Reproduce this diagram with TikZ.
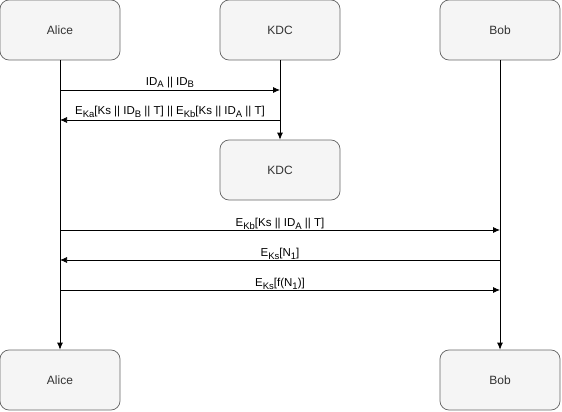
\documentclass[tikz,border=0pt]{standalone}
\usepackage{fontspec}
\setmainfont{Liberation Sans}
\usetikzlibrary{arrows.meta}
\definecolor{boxfill}{HTML}{F5F5F5}
\definecolor{boxdraw}{HTML}{666666}
\definecolor{boxtext}{HTML}{333333}
\newcommand{\sbs}[1]{\raisebox{-2.6pt}{\fontsize{9.5}{10}\selectfont #1}}
\begin{document}
\begin{tikzpicture}[x=1pt,y=-1pt,
  actor/.style={draw=boxdraw,fill=boxfill,rounded corners=9pt,minimum width=120pt,minimum height=60pt,
    text=boxtext,font=\fontsize{12}{14}\selectfont,inner sep=0pt,line width=0.75pt},
  msg/.style={-{Latex[length=7pt,width=6pt]},line width=0.75pt},
  lbl/.style={font=\fontsize{11.5}{13}\selectfont,anchor=south,inner sep=0.5pt}]
\useasboundingbox (0,0) rectangle (562,412);
\node[actor] (alice) at (60,30) {Alice};
\node[actor] (kdc) at (280,30) {KDC};
\node[actor] (bob) at (500,30) {Bob};
\node[actor] (kdc2) at (280,170) {KDC};
\node[actor] (alice2) at (60,380) {Alice};
\node[actor] (bob2) at (500,380) {Bob};
\draw[msg] (alice) -- (alice2);
\draw[msg] (bob) -- (bob2);
\draw[msg] (kdc) -- (kdc2);
\coordinate (a1) at (60,90); \coordinate (k1) at (280,90);
\coordinate (a2) at (60,120); \coordinate (k2) at (280,120);
\coordinate (a3) at (60,230); \coordinate (b3) at (500,230);
\coordinate (a4) at (60,260); \coordinate (b4) at (500,260);
\coordinate (a5) at (60,290); \coordinate (b5) at (500,290);
\draw[msg] (a1) -- node[lbl,inner sep=2pt]{ID\sbs{A} || ID\sbs{B}} (k1);
\draw[msg] (k2) -- node[lbl,inner sep=2pt]{E\sbs{Ka}[Ks || ID\sbs{B} || T] || E\sbs{Kb}[Ks || ID\sbs{A} || T]} (a2);
\draw[msg] (a3) -- node[lbl]{E\sbs{Kb}[Ks || ID\sbs{A} || T]} (b3);
\draw[msg] (b4) -- node[lbl]{E\sbs{Ks}[N\sbs{1}]} (a4);
\draw[msg] (a5) -- node[lbl]{E\sbs{Ks}[f(N\sbs{1})]} (b5);
\end{tikzpicture}
\end{document}
